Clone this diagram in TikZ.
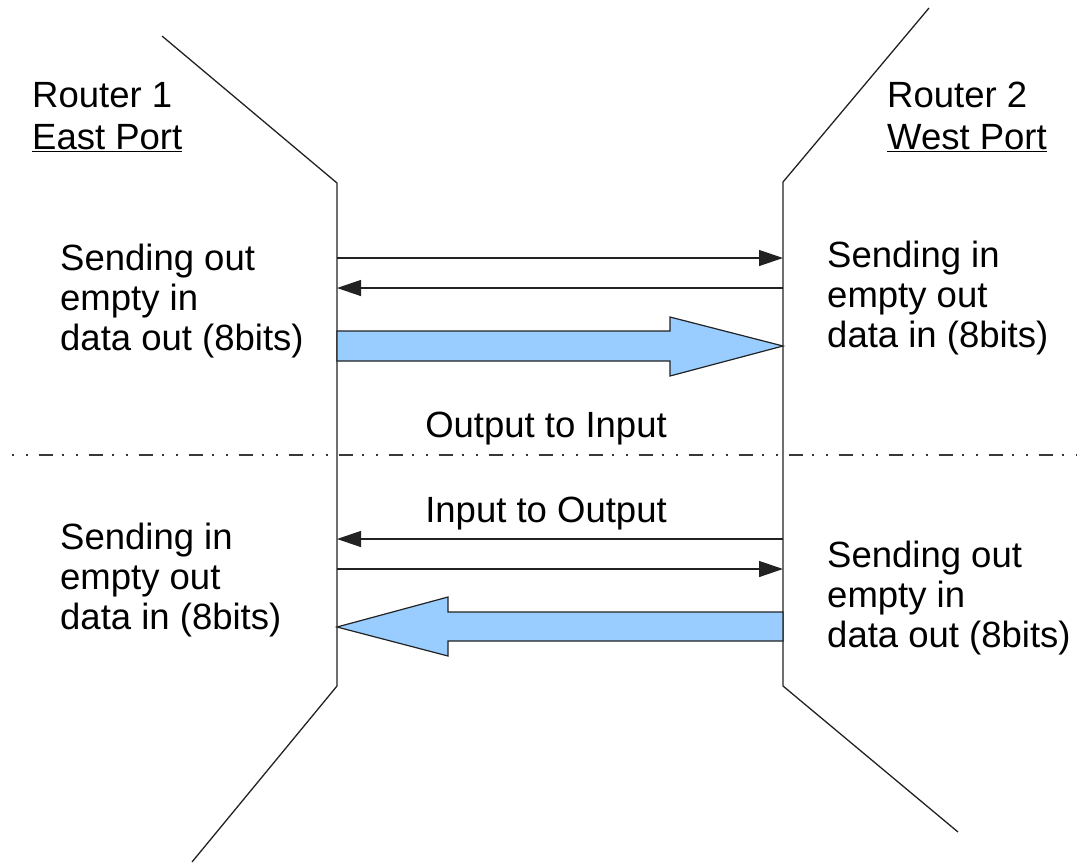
\documentclass[tikz,border=0pt]{standalone}
\usepackage{fontspec}
\setmainfont{Liberation Sans}
\usetikzlibrary{arrows.meta}
\definecolor{busblue}{HTML}{99CCFF}
\definecolor{ink}{HTML}{222222}

\begin{document}
\begin{tikzpicture}[x=1pt,y=-1pt,
  outline/.style={line width=1.3pt, draw=ink, line join=miter},
  sig/.style={line width=1.3pt, draw=ink, -{Triangle[length=24pt,width=16pt]}},
  bus/.style={fill=busblue, draw=ink, line width=1.2pt, line join=miter},
  lbl/.style={inner sep=0pt, anchor=base west, font=\fontsize{36.5}{40}\selectfont},
  ttl/.style={inner sep=0pt, anchor=base west, font=\fontsize{36.5}{42}\selectfont},
  mid/.style={inner sep=0pt, anchor=base, font=\fontsize{36.5}{40}\selectfont},
  divider/.style={line width=1.5pt, draw=ink!90,
    dash pattern=on 1.5pt off 12.5pt on 1.5pt off 11pt on 14pt off 9.5pt},
]
\useasboundingbox (0,0) rectangle (1081,863);

% port outlines of the two routers
\coordinate (e1) at (162,36);
\coordinate (e2) at (337,183);
\coordinate (e3) at (337,686);
\coordinate (e4) at (192,862);
\coordinate (w1) at (929,8);
\coordinate (w2) at (783,182);
\coordinate (w3) at (783,686);
\coordinate (w4) at (958,832);
\draw[outline] (e1) -- (e2) -- (e3) -- (e4);
\draw[outline] (w1) -- (w2) -- (w3) -- (w4);

% titles
\node[ttl] (r1) at (32,107) {\begin{tabular}[t]{@{}l@{}}Router 1\\\underline{East Port}\end{tabular}};
\node[ttl] (r2) at (887,107) {\begin{tabular}[t]{@{}l@{}}Router 2\\\underline{West Port}\end{tabular}};

% signal descriptions
\node[lbl] (eo) at (60,270) {\begin{tabular}[t]{@{}l@{}}Sending out\\empty in\\data out (8bits)\end{tabular}};
\node[lbl] (wi) at (827,267) {\begin{tabular}[t]{@{}l@{}}Sending in\\empty out\\data in (8bits)\end{tabular}};
\node[lbl] (ei) at (60,549) {\begin{tabular}[t]{@{}l@{}}Sending in\\empty out\\data in (8bits)\end{tabular}};
\node[lbl] (wo) at (827,567) {\begin{tabular}[t]{@{}l@{}}Sending out\\empty in\\data out (8bits)\end{tabular}};

% direction captions
\node[mid] (oti) at (546,437) {Output to Input};
\node[mid] (ito) at (546,522) {Input to Output};

% divider between the two directions
\coordinate (d1) at (12,455);
\coordinate (d2) at (1077,455);
\draw[divider] (d1) -- (d2);

% control lines, east to west
\coordinate (s1a) at (337,258); \coordinate (s1b) at (783,258);
\coordinate (s2a) at (783,288); \coordinate (s2b) at (337,288);
\draw[sig] (s1a) -- (s1b);
\draw[sig] (s2a) -- (s2b);

% data bus, east to west
\draw[bus] (337,331) -- (670,331) -- (670,317) -- (783,346) -- (670,376) -- (670,361) -- (337,361) -- cycle;

% control lines, west to east
\coordinate (s3a) at (783,539); \coordinate (s3b) at (337,539);
\coordinate (s4a) at (337,569); \coordinate (s4b) at (783,569);
\draw[sig] (s3a) -- (s3b);
\draw[sig] (s4a) -- (s4b);

% data bus, west to east
\draw[bus] (783,612) -- (448,612) -- (448,597) -- (337,627) -- (448,656) -- (448,641) -- (783,641) -- cycle;
\end{tikzpicture}
\end{document}
